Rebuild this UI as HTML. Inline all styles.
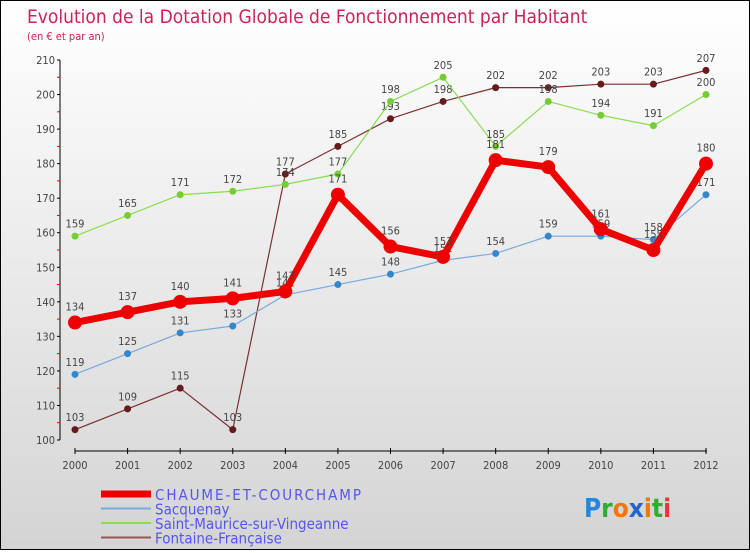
<!DOCTYPE html>
<html><head><meta charset="utf-8"><style>
body{margin:0;width:750px;height:550px;overflow:hidden;font-family:"DejaVu Sans Condensed","Liberation Sans",sans-serif}
#wrap{position:absolute;left:0;top:0;width:748px;height:548px;border:1px solid #000;background:linear-gradient(#ffffff,#d4d4d4)}
</style></head><body>
<div id="wrap">
<svg id="chart" width="748" height="548" style="font-family:'DejaVu Sans Condensed','Liberation Sans',sans-serif"></svg>
</div>
<script>
const years=["2000","2001","2002","2003","2004","2005","2006","2007","2008","2009","2010","2011","2012"];
const chaume=[134,137,140,141,143,171,156,153,181,179,161,155,180];
const sacquenay=[119,125,131,133,142,145,148,152,154,159,159,158,171];
const saintMaurice=[159,165,171,172,174,177,198,205,185,198,194,191,200];
const fontaine=[103,109,115,103,177,185,193,198,202,202,203,203,207];
const yTicks=[100,110,120,130,140,150,160,170,180,190,200,210];
const NS="http://www.w3.org/2000/svg";
const svg=document.getElementById('chart');
function X(i){return 74+i*(705-74)/12;}
function Y(v){return 439-(v-100)*(439-59)/110;}
function mk(tag,attrs,parent){const e=document.createElementNS(NS,tag);for(const k in attrs)e.setAttribute(k,attrs[k]);(parent||svg).appendChild(e);return e;}
// title
let t=mk('text',{x:26,y:22,fill:'#cc2255','font-size':19});t.textContent='Evolution de la Dotation Globale de Fonctionnement par Habitant';


t=mk('text',{x:26,y:39,fill:'#cc2255','font-size':11});t.textContent='(en € et par an)';


// axes
let a=mk('line',{x1:59,y1:59,x2:59,y2:439,stroke:'#000','stroke-width':1});


a=mk('line',{x1:74,y1:450,x2:706,y2:450,stroke:'#000','stroke-width':1});


yTicks.forEach(v=>{
  mk('line',{x1:56,y1:Y(v),x2:59,y2:Y(v),stroke:'#000'});
  if(v<210)mk('line',{x1:56,y1:Y(v+5),x2:59,y2:Y(v+5),stroke:'#e00'});
  const l=mk('text',{x:54,y:Y(v)+4,'text-anchor':'end','font-size':11,fill:'#444'});l.textContent=v;
  
  
});
years.forEach((y,i)=>{
  mk('line',{x1:X(i),y1:447,x2:X(i),y2:453,stroke:'#000'});
  const l=mk('text',{x:X(i),y:468,'text-anchor':'middle','font-size':11,fill:'#444'});l.textContent=y;
  
  
});
function series(data,color,dot,w,r,name,labelBelow){
  const g=mk('g',{});
  
  
  mk('polyline',{points:data.map((v,i)=>X(i)+','+Y(v)).join(' '),fill:'none',stroke:color,'stroke-width':w,'stroke-linejoin':'round'},g);
  data.forEach((v,i)=>{
    const c=mk('circle',{cx:X(i),cy:Y(v),r:r,fill:dot},g);
    
    
    const l=mk('text',{x:X(i),y:Y(v)-(r+5),'text-anchor':'middle','font-size':11,fill:'#444'},g);l.textContent=v;
    
    
  });
}
series(fontaine,'#7a3030','#661a1a',1.2,3.5,'series-fontaine');
series(saintMaurice,'#88dd55','#77cc33',1.2,3.5,'series-saint-maurice');
series(sacquenay,'#77aadd','#3388cc',1.2,3.5,'series-sacquenay');
series(chaume,'#ee0000','#ee0000',7,7,'series-chaume');
// legend
const leg=[['CHAUME-ET-COURCHAMP','#ee0000',7],['Sacquenay','#77aadd',2],['Saint-Maurice-sur-Vingeanne','#88dd55',2],['Fontaine-Française','#995555',2]];
leg.forEach((d,i)=>{
  const y=493+i*14.5;
  const g=mk('g',{});
  
  
  mk('line',{x1:100,y1:y,x2:150,y2:y,stroke:d[1],'stroke-width':d[2]},g);
  const l=mk('text',{x:154,y:y+6,'font-size':15,fill:'#5555ee','textLength':i==0?206:0},g);
  if(i!=0)l.removeAttribute('textLength');
  l.textContent=d[0];
});
// logo
const lg=mk('text',{x:583,y:516,'font-size':26,'font-weight':'bold'});


[['P','#2288dd'],['r','#33aa33'],['o','#ee7711'],['x','#2266cc'],['i','#ee7711'],['t','#33aa33'],['i','#ee3333']].forEach(([c,col])=>{const s=mk('tspan',{fill:col},lg);s.textContent=c;});
</script>
</body></html>
